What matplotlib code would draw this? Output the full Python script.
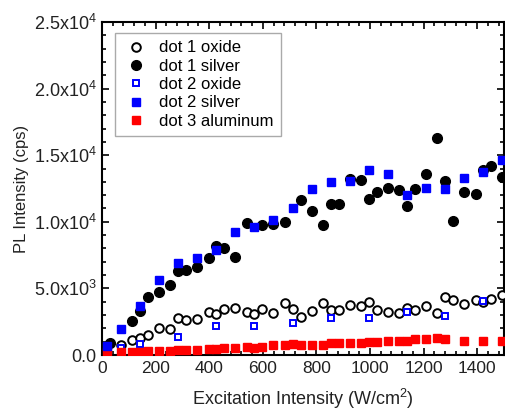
import matplotlib
matplotlib.use("Agg")
import matplotlib.pyplot as plt
from matplotlib.ticker import MultipleLocator, FixedLocator, FixedFormatter

plt.rcParams['font.family'] = ['Liberation Sans', 'DejaVu Sans']
plt.rcParams['mathtext.fontset'] = 'custom'
plt.rcParams['mathtext.rm'] = 'Liberation Sans'

# dot 1 oxide (open black circles)
d1o_x = [71, 113, 142, 170, 214, 255, 285, 313, 356, 398, 427, 455, 497, 540, 568, 598, 639, 683, 711, 741,
         782, 825, 853, 883, 925, 966, 996, 1025, 1067, 1109, 1138, 1168, 1209, 1251, 1280, 1308, 1351, 1394, 1423, 1451, 1494]
d1o_y = [750, 1126, 1300, 1500, 2050, 1975, 2800, 2600, 2700, 3200, 3050, 3430, 3500, 3200, 3050, 3430, 3180, 3930, 3430, 2870,
         3300, 3905, 3355, 3355, 3755, 3705, 3955, 3405, 3205, 3130, 3555, 3380, 3705, 3130, 4355, 4130, 3830, 4105, 3955, 4205, 4530]

# dot 1 silver (filled black circles)
d1s_x = [30, 113, 142, 170, 214, 255, 285, 313, 356, 398, 427, 455, 497, 540, 598, 639, 683, 741,
         782, 825, 853, 883, 925, 966, 996, 1025, 1067, 1109, 1138, 1168, 1209, 1251, 1280, 1308, 1351, 1394, 1423, 1451, 1494]
d1s_y = [875, 2553, 3328, 4355, 4755, 5255, 6280, 6405, 6580, 7255, 8180, 8055, 7380, 9880, 9730, 9805, 9955, 11600,
         10810, 9730, 11360, 11360, 13240, 13115, 11690, 12240, 12540, 12365, 11165, 12440, 13590, 16290, 13065, 10035, 12215, 12090, 13900, 14170, 13390]

# dot 2 oxide (open blue squares)
d2o_x = [71, 142, 285, 427, 568, 711, 853, 996, 1138, 1280, 1423]
d2o_y = [500, 826, 1351, 2177, 2200, 2425, 2800, 2800, 3255, 2905, 4055]

# dot 2 silver (filled blue squares)
d2s_x = [17, 71, 142, 213, 285, 356, 427, 497, 568, 639, 711, 782, 853, 925, 996, 1067, 1138, 1209, 1280, 1351, 1423, 1494]
d2s_y = [700, 1930, 3700, 5630, 6880, 7255, 7855, 9205, 9630, 10135, 11010, 12490, 12990, 13065, 13865, 13590, 11990, 12540, 12440, 13315, 13765, 14665]

# dot 3 aluminum (filled red squares)
d3a_x = [17, 71, 113, 142, 170, 214, 255, 285, 313, 356, 398, 427, 455, 497, 540, 568, 598, 639, 683, 711, 741,
         782, 825, 853, 883, 925, 966, 996, 1025, 1067, 1109, 1138, 1168, 1209, 1251, 1280, 1351, 1423, 1494]
d3a_y = [200, 200, 225, 225, 275, 325, 325, 350, 400, 400, 425, 425, 500, 500, 575, 550, 600, 750, 750, 800, 750,
         775, 750, 875, 900, 900, 900, 975, 975, 1025, 1075, 1050, 1175, 1175, 1250, 1175, 1050, 1050, 1050]

y_ticks = [0, 5000, 10000, 15000, 20000, 25000]
y_labels = ['0.0', r'5.0x10$^3$', r'1.0x10$^4$', r'1.5x10$^4$', r'2.0x10$^4$', r'2.5x10$^4$']
x_ticks = [0, 200, 400, 600, 800, 1000, 1200, 1400]

fig = plt.figure(figsize=(5.06, 4.11), dpi=100)
ax = fig.add_axes([102/506, 1-355/411, 402/506, 333/411])

ax.plot(d1o_x, d1o_y, 'o', mfc='white', mec='black', mew=1.4, ms=6.2, label='dot 1 oxide', zorder=3)
ax.plot(d1s_x, d1s_y, 'o', mfc='black', mec='black', ms=7.0, label='dot 1 silver', zorder=4)
ax.plot(d2o_x, d2o_y, 's', mfc='white', mec='#0000ff', mew=1.4, ms=5.0, label='dot 2 oxide', zorder=3)
ax.plot(d2s_x, d2s_y, 's', mfc='#0000ff', mec='#0000ff', ms=5.6, label='dot 2 silver', zorder=5)
ax.plot(d3a_x, d3a_y, 's', mfc='#ff0000', mec='#ff0000', ms=5.6, label='dot 3 aluminum', zorder=3)

ax.set_xlim(0, 1500)
ax.set_ylim(0, 25000)
ax.yaxis.set_major_locator(FixedLocator(y_ticks))
ax.yaxis.set_major_formatter(FixedFormatter(y_labels))
ax.yaxis.set_minor_locator(MultipleLocator(1000))
ax.xaxis.set_major_locator(FixedLocator(x_ticks))
ax.xaxis.set_minor_locator(MultipleLocator(40))

ax.tick_params(which='both', direction='in', top=True, right=True, labelsize=12.5, width=1.2,
               labelcolor='#222222')
ax.tick_params(axis='y', which='major', labelsize=13)
ax.tick_params(which='major', length=5, pad=4)
ax.tick_params(which='minor', length=3)
for s in ax.spines.values():
    s.set_linewidth(1.5)

ax.set_xlabel('Excitation Intensity (W/cm$^2$)', fontsize=13, labelpad=8, color='#222222')
ax.set_ylabel('PL Intensity (cps)', fontsize=12, labelpad=3, color='#222222')

leg = ax.legend(loc='upper left', bbox_to_anchor=(0.032, 0.967), borderaxespad=0,
                fancybox=False, edgecolor='#aaaaaa', fontsize=12, handlelength=1.6,
                handletextpad=0.6, labelspacing=0.2, borderpad=0.45, framealpha=1)
leg.get_frame().set_linewidth(1.0)

fig.savefig('out.png', dpi=100)
